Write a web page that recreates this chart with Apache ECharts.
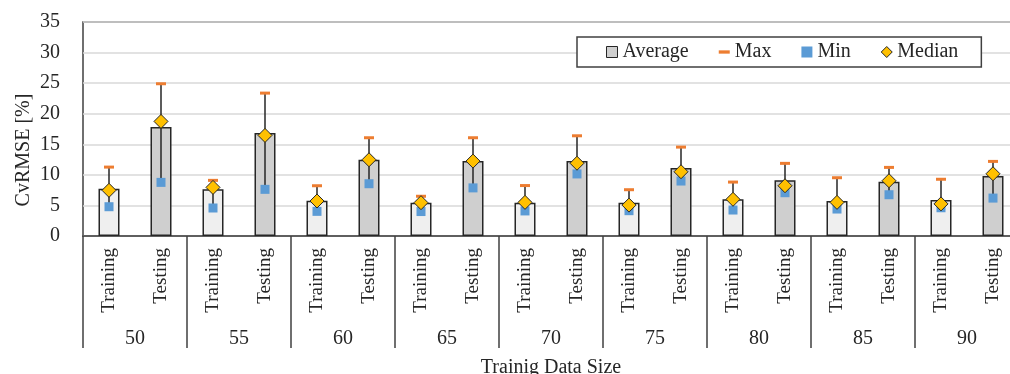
<!DOCTYPE html>
<html>
<head>
<meta charset="utf-8">
<script src="https://cdn.jsdelivr.net/npm/echarts@6/dist/echarts.min.js"></script>
<style>html,body{margin:0;padding:0;background:#fff;}#c{width:1010px;height:374px;}</style>
</head>
<body>
<div id="c"></div>
<script>
var groups = ['50','55','60','65','70','75','80','85','90'];
var phases = ['Training','Testing'];
var categories = [];
groups.forEach(function(){ phases.forEach(function(p){ categories.push(p); }); });

var avgValues    = [7.73, 17.81, 7.63, 16.83, 5.77, 12.47, 5.42, 12.25, 5.42, 12.25, 5.42, 11.11, 6.0, 9.1, 5.72, 8.88, 5.88, 9.83];
var maxValues    = [11.27, 24.9, 9.1, 23.37, 8.22, 16.07, 6.5, 16.07, 8.25, 16.39, 7.57, 14.54, 8.82, 11.88, 9.53, 11.22, 9.28, 12.2];
var minValues    = [4.79, 8.77, 4.58, 7.63, 4.03, 8.55, 4.0, 7.87, 4.1, 10.15, 4.14, 8.99, 4.25, 7.08, 4.41, 6.75, 4.62, 6.2];
var medianValues = [7.47, 18.74, 7.95, 16.45, 5.72, 12.47, 5.45, 12.25, 5.5, 11.9, 5.05, 10.51, 6.0, 8.22, 5.5, 9.04, 5.25, 10.18];
var yTicks = {min: 0, max: 35, interval: 5};

var FONT = 'Liberation Serif';
var TXT = '#262626';
var errData = categories.map(function(c, i){ return [i, minValues[i], maxValues[i]]; });

var chart = echarts.init(document.getElementById('c'));
chart.setOption({
  animation: false,
  backgroundColor: '#fff',
  textStyle: {fontFamily: FONT, color: TXT},
  grid: {left: 83, top: 22, width: 936, height: 214, show: true, borderColor: '#404040', borderWidth: 1.5,
         containLabel: false, outerBoundsMode: 'none'},
  legend: {
    left: 577, top: 37, padding: [5, 23, 5, 29], itemGap: 30, itemWidth: 11, itemHeight: 11,
    backgroundColor: '#fff', borderColor: '#404040', borderWidth: 1.5,
    textStyle: {fontFamily: FONT, fontSize: 20, color: TXT},
    data: [
      {name: 'Average', icon: 'rect', itemStyle: {color: '#cfcfcf', borderColor: '#262626', borderWidth: 1}},
      {name: 'Max', icon: 'path://M0,0H10V3H0Z', itemStyle: {color: '#ed7d31', borderWidth: 0}},
      {name: 'Min', icon: 'rect', itemStyle: {color: '#5b9bd5', borderWidth: 0}},
      {name: 'Median', icon: 'diamond', itemStyle: {color: '#ffc000', borderColor: '#262626', borderWidth: 1}}
    ]
  },
  graphic: [{
    type: 'text', x: 24, y: 150, rotation: Math.PI / 2,
    style: {text: 'CvRMSE [%]', font: '20px "Liberation Serif"', fill: TXT, align: 'center', verticalAlign: 'middle'}
  }],
  xAxis: [{
    type: 'category', data: categories, position: 'bottom', gridIndex: 0,
    axisLine: {show: true, lineStyle: {color: '#404040', width: 1.5}},
    axisTick: {show: false},
    axisLabel: {rotate: 90, interval: 0, margin: 12, fontFamily: FONT, fontSize: 19, color: TXT}
  }, {
    type: 'category', data: groups, position: 'bottom', gridIndex: 0, boundaryGap: true,
    axisLine: {show: false},
    axisTick: {show: true, length: 112, interval: 0, lineStyle: {color: '#404040', width: 1.5}},
    axisLabel: {interval: 0, margin: 93, fontFamily: FONT, fontSize: 20, color: TXT},
    name: 'Trainig Data Size', nameLocation: 'middle', nameGap: 122,
    nameTextStyle: {fontFamily: FONT, fontSize: 20, color: TXT}
  }],
  yAxis: {
    type: 'value', min: yTicks.min, max: yTicks.max, interval: yTicks.interval,
    axisLine: {show: false}, axisTick: {show: false},
    axisLabel: {margin: 23, fontFamily: FONT, fontSize: 20, color: TXT},
    splitLine: {show: true, lineStyle: {color: '#d9d9d9', width: 1.5}}
  },
  series: [{
    name: 'Average', type: 'bar', xAxisIndex: 0, barWidth: 21, z: 2,
    data: avgValues,
    itemStyle: {
      color: function(p){ return p.dataIndex % 2 === 0 ? '#efefef' : '#cfcfcf'; },
      borderColor: '#262626', borderWidth: 1.5
    }
  }, {
    name: 'err', type: 'custom', xAxisIndex: 0, z: 3,
    data: errData,
    renderItem: function(params, api){
      var lo = api.coord([api.value(0), api.value(1)]);
      var hi = api.coord([api.value(0), api.value(2)]);
      return {type: 'line', shape: {x1: lo[0], y1: lo[1], x2: hi[0], y2: hi[1]}, style: {stroke: '#262626', lineWidth: 1.5}};
    }
  }, {
    name: 'Max', type: 'scatter', xAxisIndex: 0, z: 4, symbol: 'rect', symbolSize: [10, 3],
    data: maxValues, itemStyle: {color: '#ed7d31', opacity: 1}
  }, {
    name: 'Min', type: 'scatter', xAxisIndex: 0, z: 4, symbol: 'rect', symbolSize: 9,
    data: minValues, itemStyle: {color: '#5b9bd5', opacity: 1}
  }, {
    name: 'Median', type: 'scatter', xAxisIndex: 0, z: 5, symbol: 'diamond', symbolSize: [14, 14],
    data: medianValues, itemStyle: {color: '#ffc000', borderColor: '#262626', borderWidth: 1, opacity: 1}
  }]
});
</script>
</body>
</html>
